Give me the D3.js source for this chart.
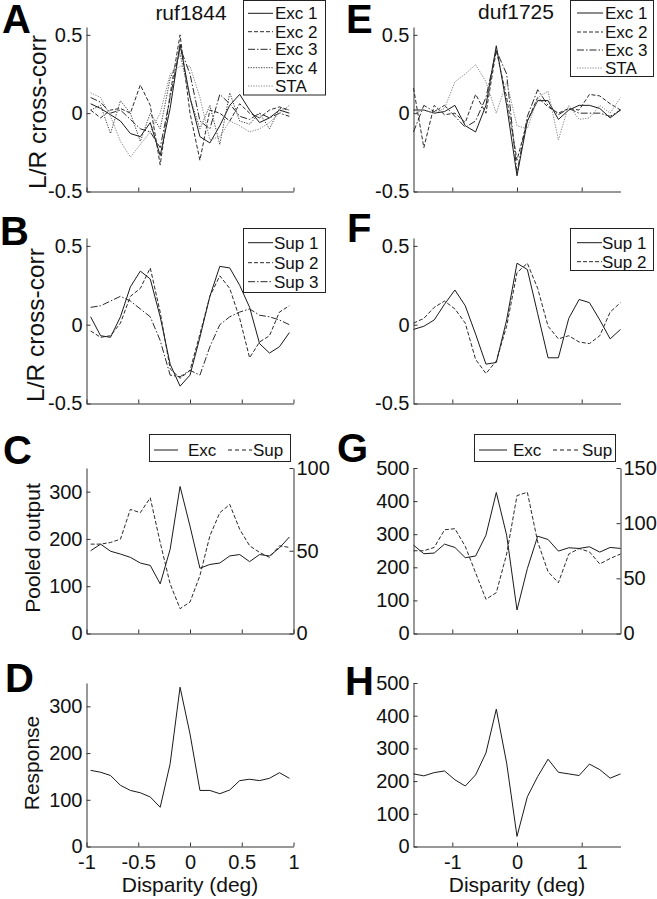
<!DOCTYPE html>
<html><head><meta charset="utf-8">
<script src="https://cdn.jsdelivr.net/npm/d3@7"></script>
<style>body{margin:0;background:#fff}</style>
</head><body>
<script>
// ---------- data ----------
const dispL = [-0.96,-0.864,-0.768,-0.672,-0.576,-0.48,-0.384,-0.288,-0.192,-0.096,0,0.096,0.192,0.288,0.384,0.48,0.576,0.672,0.768,0.864,0.96];
const dispR = [-1.6,-1.44,-1.28,-1.12,-0.96,-0.8,-0.64,-0.48,-0.32,-0.16,0,0.16,0.32,0.48,0.64,0.8,0.96,1.12,1.28,1.44,1.6];

// Panel A (ruf1844)
const aExc1 = [0.06,0.03,-0.01,-0.05,-0.13,-0.15,-0.06,-0.27,0.03,0.44,0.10,-0.15,-0.19,-0.08,0.05,0.12,0.02,-0.06,-0.03,0.02,0.00];
const aExc2 = [0.02,-0.03,0.02,0.03,0.00,0.18,0.05,-0.33,0.12,0.50,0.00,-0.30,0.02,0.00,-0.05,0.06,0.00,-0.03,0.02,0.04,0.02];
const aExc3 = [0.10,0.07,0.00,0.02,-0.04,-0.10,-0.12,-0.22,0.10,0.42,0.25,-0.05,-0.10,0.12,0.06,-0.02,-0.04,0.00,-0.03,0.00,-0.02];
const aExc4 = [0.02,0.05,-0.13,0.08,0.00,-0.18,0.00,-0.10,0.22,0.38,0.10,-0.10,0.05,-0.20,0.13,-0.05,-0.07,0.00,-0.10,0.03,0.02];
const aSTA  = [0.13,0.10,-0.02,-0.18,-0.28,-0.20,-0.12,0.00,0.25,0.30,0.30,0.10,-0.17,-0.15,-0.05,-0.08,-0.12,-0.10,-0.06,0.00,0.05];
const aLegend = ["Exc 1","Exc 2","Exc 3","Exc 4","STA"];

// Panel E (duf1725)
const eExc1 = [0.02,0.02,0.00,0.01,0.05,-0.08,-0.12,0.05,0.43,0.05,-0.40,-0.05,0.08,0.08,-0.04,0.02,0.05,0.05,0.03,-0.03,0.02];
const eExc2 = [0.16,-0.22,0.05,-0.01,0.00,-0.06,0.12,0.00,0.40,0.10,-0.30,-0.05,0.10,0.04,0.00,0.03,0.02,0.12,0.11,0.06,0.02];
const eExc3 = [-0.12,0.05,0.01,0.05,-0.02,-0.09,-0.05,0.10,0.40,0.25,-0.38,-0.02,0.15,0.05,-0.01,0.03,0.00,0.00,0.00,-0.02,0.02];
const eSTA  = [0.00,0.02,0.00,0.03,0.20,0.25,0.31,0.20,0.00,0.20,-0.08,-0.10,0.10,0.14,-0.17,0.05,-0.04,-0.03,0.05,0.00,0.10];
const eLegend = ["Exc 1","Exc 2","Exc 3","STA"];

// Panel B
const bSup1 = [0.05,-0.07,-0.08,0.05,0.24,0.34,0.29,0.05,-0.25,-0.39,-0.32,-0.08,0.18,0.37,0.36,0.25,0.11,-0.12,-0.18,-0.14,-0.05];
const bSup2 = [-0.04,-0.08,-0.07,0.01,0.18,0.23,0.36,0.08,-0.28,-0.34,-0.29,-0.06,0.18,0.31,0.23,0.04,-0.21,-0.11,-0.07,0.08,0.12];
const bSup3 = [0.11,0.12,0.15,0.18,0.15,0.10,0.05,-0.10,-0.32,-0.33,-0.29,-0.32,-0.14,0.00,0.05,0.08,0.10,0.06,0.05,0.03,0.00];
const bLegend = ["Sup 1","Sup 2","Sup 3"];

// Panel F
const fSup1 = [-0.03,-0.01,0.03,0.13,0.22,0.12,-0.06,-0.25,-0.24,0.03,0.39,0.35,0.07,-0.21,-0.21,0.04,0.16,0.14,0.03,-0.09,-0.03];
const fSup2 = [0.01,0.04,0.11,0.15,0.10,0.01,-0.22,-0.31,-0.23,-0.01,0.33,0.39,0.23,-0.01,-0.09,-0.07,-0.11,-0.12,-0.07,0.08,0.14];
const fLegend = ["Sup 1","Sup 2"];

// Panel C (pooled output; Exc left axis, Sup right axis)
const cExc = [175,189,174,168,161,149,144,105,178,311,227,138,146,149,164,167,152,167,164,181,204];
const cSup = [54,54,55,57,75,73,82,55,30,15,19,35,59,73,78,63,53,49,46,53,52];

// Panel G
const gExc = [267,241,243,270,260,229,234,297,426,297,71,196,294,284,249,259,257,262,246,260,257];
const gSup = [75,75,78,94,95,79,55,31,37,72,125,128,83,56,46,72,77,74,63,68,72];
const pooledLegend = ["Exc","Sup"];

// Panel D, H (response)
const dResp = [163,159,152,131,120,115,106,84,177,341,241,120,120,113,121,141,144,141,146,158,146];
const hResp = [222,216,226,231,204,185,219,286,420,255,31,152,214,267,227,222,217,252,235,209,222];

// ticks
const xTicksL = [-1,-0.5,0,0.5,1];
const xTickLabelsL = ["-1","-0.5","0","0.5","1"];
const xTicksR = [-1,0,1];
const xTickLabelsR = ["-1","0","1"];
const corrTicks = [-0.5,0,0.5];
const corrTickLabels = ["-0.5","0","0.5"];

// ---------- drawing ----------
const FONT = "'Liberation Sans', Arial, Helvetica, sans-serif";
const AX = "#333";
const svg = d3.select("body").append("svg").attr("width",657).attr("height",899)
  .style("font-family",FONT);

const colX = {L:[86.5,293.5], R:[413.5,620.5]};
const rowY = {1:[27,191.5], 2:[238,403.5], 3:[468,633.5], 4:[683,846.5]};
const DASH = {solid:null, dashed:"4,2", dashdot:"7,2,1.5,2", dotted:"1.3,1.3"};

function styleAxis(g){
  g.select(".domain").attr("stroke",AX).attr("stroke-width",1);
  g.selectAll(".tick line").attr("stroke",AX);
  g.attr("font-family",FONT).attr("font-size",20);
  g.selectAll("text").attr("fill","#111");
}

function panel(col,row,xDom,xTicks,xLabels,yDom,yTicks,yLabels,yDom2,yTicks2){
  const x = d3.scaleLinear().domain(xDom).range(colX[col]);
  const y = d3.scaleLinear().domain(yDom).range([rowY[row][1], rowY[row][0]]);
  const g = svg.append("g");
  const xa = d3.axisBottom(x).tickValues(xTicks).tickSizeInner(-4).tickSizeOuter(0).tickPadding(8)
    .tickFormat((d,i)=> xLabels ? xLabels[i] : "");
  g.append("g").attr("transform",`translate(0,${rowY[row][1]})`).call(xa).call(styleAxis);
  const ya = d3.axisLeft(y).tickValues(yTicks).tickSizeInner(-4).tickSizeOuter(0).tickPadding(4)
    .tickFormat((d,i)=> yLabels ? yLabels[i] : d3.format("d")(d));
  g.append("g").attr("transform",`translate(${colX[col][0]},0)`).call(ya).call(styleAxis);
  let y2 = null;
  if (yDom2){
    y2 = d3.scaleLinear().domain(yDom2).range([rowY[row][1], rowY[row][0]]);
    const ya2 = d3.axisRight(y2).tickValues(yTicks2).tickSizeInner(-4).tickSizeOuter(0).tickPadding(3)
      .tickFormat(d3.format("d"));
    g.append("g").attr("transform",`translate(${colX[col][1]},0)`).call(ya2).call(styleAxis);
  }
  return {x,y,y2,g};
}

function drawLine(p, xs, ys, dash, color, yScale){
  const ysc = yScale || p.y;
  const line = d3.line().x((d,i)=>p.x(xs[i])).y(d=>ysc(d));
  p.g.append("path").datum(ys).attr("d",line).attr("fill","none")
    .attr("stroke",color).attr("stroke-width",1)
    .attr("stroke-dasharray",DASH[dash]).attr("stroke-linejoin","round");
}

function vLegend(x0,y0,w,h,rows,labels,styles,colors,lineX,textX){
  svg.append("rect").attr("x",x0).attr("y",y0).attr("width",w).attr("height",h)
    .attr("fill","#fff").attr("stroke","#222").attr("stroke-width",1);
  labels.forEach((lab,i)=>{
    svg.append("line").attr("x1",lineX[0]).attr("x2",lineX[1]).attr("y1",rows[i]).attr("y2",rows[i])
      .attr("stroke",colors[i]).attr("stroke-width",1).attr("stroke-dasharray",DASH[styles[i]]);
    svg.append("text").attr("x",textX).attr("y",rows[i]).attr("dy","0.36em")
      .attr("font-size",17).attr("fill","#111").text(lab);
  });
}

function letter(t,x,y){
  svg.append("text").attr("x",x).attr("y",y).attr("font-size",40).attr("font-weight","bold")
    .attr("fill","#000").text(t);
}
function ylabel(t,x,y,size){
  svg.append("text").attr("transform",`translate(${x},${y}) rotate(-90)`).attr("text-anchor","middle")
    .attr("font-size",size).attr("fill","#111").text(t);
}

// Row 1
const pA = panel("L",1,[-1,1],xTicksL,null,[-0.5,0.55],corrTicks,corrTickLabels);
const excStyles = ["solid","dashed","dashdot","dotted","dotted"];
const excColors = ["#1a1a1a","#2a2a2a","#2a2a2a","#444","#8a8a8a"];
[aExc1,aExc2,aExc3,aExc4,aSTA].forEach((s,i)=>drawLine(pA,dispL,s,excStyles[i],excColors[i]));
const pE = panel("R",1,[-1.6,1.6],xTicksR,null,[-0.5,0.55],corrTicks,corrTickLabels);
const eStyles = ["solid","dashed","dashdot","dotted"];
const eColors = ["#1a1a1a","#2a2a2a","#2a2a2a","#8a8a8a"];
[eExc1,eExc2,eExc3,eSTA].forEach((s,i)=>drawLine(pE,dispR,s,eStyles[i],eColors[i]));

// Row 2
const pB = panel("L",2,[-1,1],xTicksL,null,[-0.5,0.55],corrTicks,corrTickLabels);
const supStyles = ["solid","dashed","dashdot"];
const supColors = ["#1a1a1a","#2a2a2a","#2a2a2a"];
[bSup1,bSup2,bSup3].forEach((s,i)=>drawLine(pB,dispL,s,supStyles[i],supColors[i]));
const pF = panel("R",2,[-1.6,1.6],xTicksR,null,[-0.5,0.55],corrTicks,corrTickLabels);
[fSup1,fSup2].forEach((s,i)=>drawLine(pF,dispR,s,supStyles[i],supColors[i]));

// Row 3
const pC = panel("L",3,[-1,1],xTicksL,null,[0,350],[0,100,200,300],null,[0,100],[0,50,100]);
drawLine(pC,dispL,cExc,"solid","#1a1a1a");
drawLine(pC,dispL,cSup,"dashed","#2a2a2a",pC.y2);
const pG = panel("R",3,[-1.6,1.6],xTicksR,null,[0,500],[0,100,200,300,400,500],null,[0,150],[0,50,100,150]);
drawLine(pG,dispR,gExc,"solid","#1a1a1a");
drawLine(pG,dispR,gSup,"dashed","#2a2a2a",pG.y2);

// Row 4
const pD = panel("L",4,[-1,1],xTicksL,xTickLabelsL,[0,350],[0,100,200,300],null);
drawLine(pD,dispL,dResp,"solid","#1a1a1a");
const pH = panel("R",4,[-1.6,1.6],xTicksR,xTickLabelsR,[0,500],[0,100,200,300,400,500],null);
drawLine(pH,dispR,hResp,"solid","#1a1a1a");

// Legends
vLegend(243.5,0.5,82,94.5,[13.3,31.7,49.3,67.7,86],aLegend,excStyles,excColors,[248,273],275);
vLegend(570.5,0.5,83,76,[13,32,50,68],eLegend,eStyles,eColors,[577,603],605);
vLegend(243.5,228.5,82,64,[242.7,262.7,281.7],bLegend,supStyles,supColors,[248,273],274);
vLegend(570.5,228.5,83,42,[242.7,261.7],fLegend,supStyles,supColors,[577,602],602);

function hLegend(x0,lineA,textA,lineB,textB){
  svg.append("rect").attr("x",x0).attr("y",434.5).attr("width",141).attr("height",27)
    .attr("fill","#fff").attr("stroke","#222").attr("stroke-width",1);
  const yy = 450;
  svg.append("line").attr("x1",lineA[0]).attr("x2",lineA[1]).attr("y1",yy).attr("y2",yy).attr("stroke","#1a1a1a");
  svg.append("text").attr("x",textA).attr("y",yy).attr("dy","0.36em").attr("font-size",17).attr("fill","#111").text(pooledLegend[0]);
  svg.append("line").attr("x1",lineB[0]).attr("x2",lineB[1]).attr("y1",yy).attr("y2",yy).attr("stroke","#1a1a1a").attr("stroke-dasharray","4,3");
  svg.append("text").attr("x",textB).attr("y",yy).attr("dy","0.36em").attr("font-size",17).attr("fill","#111").text(pooledLegend[1]);
}
hLegend(149.5,[154,178],188,[228,252],253);
hLegend(474.5,[479,507],513,[553,578],582);

// Titles
svg.append("text").attr("x",191).attr("y",20).attr("text-anchor","middle").attr("font-size",21).attr("fill","#111").text("ruf1844");
svg.append("text").attr("x",516).attr("y",19).attr("text-anchor","middle").attr("font-size",21).attr("fill","#111").text("duf1725");

// Panel letters
letter("A",2,33); letter("E",346,33);
letter("B",0,245); letter("F",347,242);
letter("C",3,464); letter("G",337,462);
letter("D",5,692); letter("H",345,695);

// Axis labels
ylabel("L/R cross-corr",46,112,24.5);
ylabel("L/R cross-corr",44,325,24.5);
ylabel("Pooled output",40,548,21);
ylabel("Response",39,763,21);
svg.append("text").attr("x",190).attr("y",892).attr("text-anchor","middle").attr("font-size",21).attr("fill","#111").text("Disparity (deg)");
svg.append("text").attr("x",517).attr("y",892).attr("text-anchor","middle").attr("font-size",21).attr("fill","#111").text("Disparity (deg)");
</script>
</body></html>
